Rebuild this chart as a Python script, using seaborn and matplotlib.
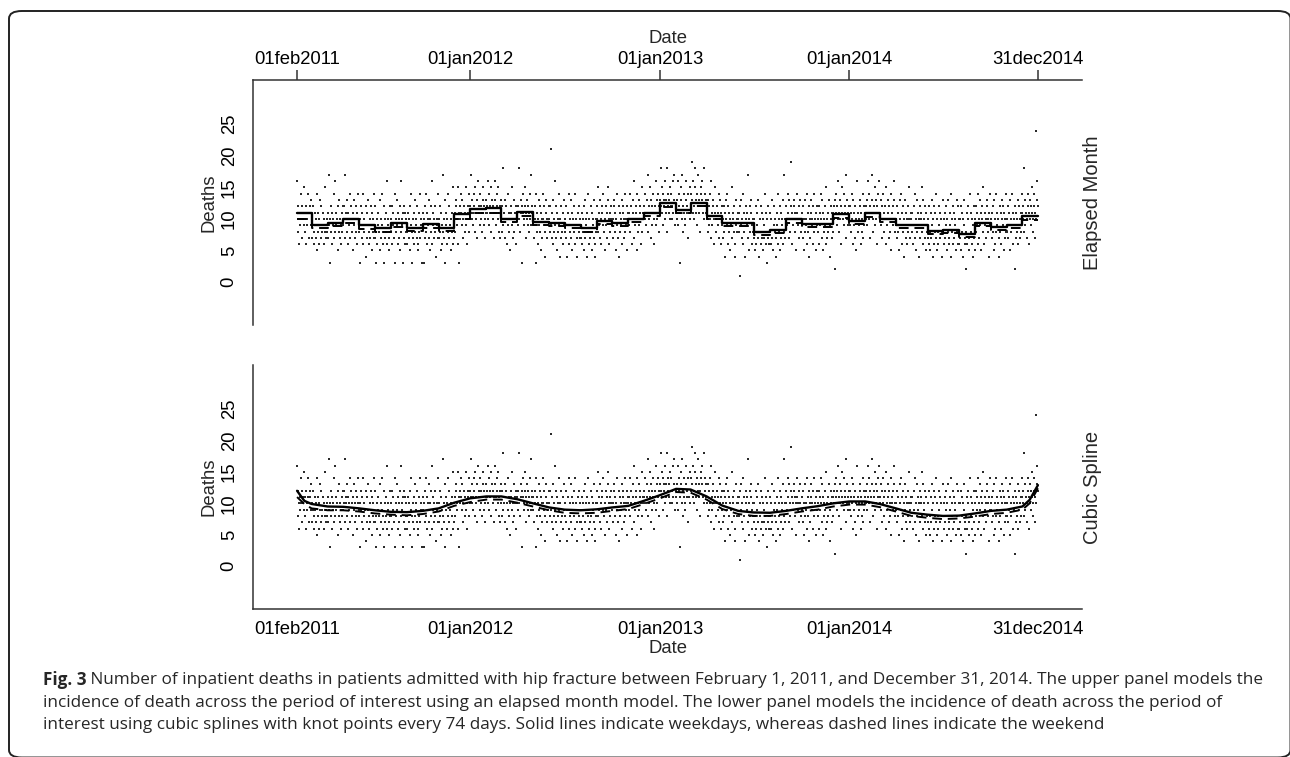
import pandas as pd
import matplotlib
matplotlib.use("Agg")
import matplotlib.pyplot as plt
from matplotlib.patches import FancyBboxPatch
import seaborn as sns

# daily deaths, one string per month (Feb 2011 .. Dec 2014), one base-36 digit per day
daily_by_month = [
    "g8ca6b9eac7ba9fb8c6a9be7bcd9", "7a9c86b9a75e8ba69d7c89b6a8f79a8",
    "b7h93a8c6ba9e7g8b9a5c8d7a96b8c", "9cah7ba8d6b9ae7c8a5bd9a7c8b6ea9",
    "83a9c7b6e8a94c7b9d68a7c9b5a8e7", "7c83a69b8d5a7e9683c7a8b6g9a75c8",
    "a8c69b7e3a8d96ba7c5g8a93b7cb6a8", "86b7a5c9e83a7b6d8a97c65b8e7a93",
    "9b3a7c8e6ba97d5a8cg69b7a8c4a9e7", "7a8c5b96h8a73d9b6a8e7c95a8b6f7",
    "ab8dc9a6fb3caeb9d7ac8bf9a6cbe8a",
    "cbhadb9ecf8bad7gcb9eac8bdf9ca7b", "dbcgae9cbf8dac7bgdb9ecaf8bc7d",
    "a8ci9ba7dc6a9eb8a5cb9f7ad8ba6ca", "bc9ia8dbc3eb9acf7bda9cb8eah9cb",
    "9b7ca3e8ba6d9c8b5a7ea9c48bd7a9c", "a8c9l7b6d8a9g7c5b8ae94a7c8b6d9",
    "8a7c94b9e6a8d7b5a9c8e6a74b9c8a7", "79b6a8c5d7a94b8e6a7c8b59a7d64a8",
    "ac8f9b7da6cb9e85ac9b7dfa6b8ca9", "9a7dc8b5a9e7c4b8a9d6bc7a8e9a5cb",
    "ab9e8ca6dbg7a9cb5ea8d9bc6af8ba", "bcae9dbh8cafb7dc9bea6cbg9daeb8c",
    "dcifbe9dcgadb8icedbfaceacgbdh9c", "bdag9ecb3fdah8cbea9gdcbe7bfa",
    "ecjdbgcaifdbe9chdbc8fegdbaicedb", "ab8dc9ea7gb9cda6bf8acb9e7dab6c",
    "9a7c8b4da9e6c8b5a9f7ab8c46d9a8b", "a8b1c9d7a6eb84ac9b7ha5c8bd96a8",
    "7a85c69b7d48a6c7b5a97e86b3a7c86", "8b6a7d59c8a74b9e6a8c57b9a6d8h7a",
    "ac9eb7da8cjb6a9dc8ba5eb9ac7da8", "9b7ca5d8a9e6b8c4a7db9a6c8ea5b9c",
    "a8c6b9ea7d5b8a9c6fa7b8d49ca7b8", "bca2dbe9cagb8dac6bfa9ecbh7dab9c",
    "a9c8bea6d9b7ca5gb8a9dc6ba8e7c9a", "bcad9gbea7cbhd8acbf9ad6cbegb",
    "ab9dc7ea8bc6fa9bd7ca8e5bac9gd8a", "9a7c8b5da9e6b8c4a9d7ba6c8fa79b",
    "a8b6c9e7a5d8b9a4c7ba8f6d9a7cb58", "7a6c85b7d9a46c8b7e5a86c9b7a48d",
    "8a6b79c5a8d67b9e4a8c6b7a95d8c6a", "6a7c5b84a9d6728b6ca57e8b6a49c75",
    "a8c9b6ea7d9b5ca8f6b9a7dc8a4b9e", "9a7b8c5da6e8b9a74c8b6da9c5b7a8e",
    "a8c7b9d5a8e6ba92c7b8ad6c9a7b8e", "bac8id9ba7ecb6adc9bfa8ceb7oagdc",
]

# elapsed month model, monthly fitted deaths
month_weekday = [10.9, 9.05, 9.4, 10.0, 9.0, 8.5, 9.3, 8.6, 9.2, 8.6, 10.7,
                 11.5, 11.7, 10.0, 11.05, 9.5, 9.4, 9.0, 8.5, 9.7, 9.4, 10.0, 11.0,
                 12.6, 11.4, 12.6, 10.5, 9.3, 9.3, 8.0, 8.3, 10.0, 9.2, 9.2, 10.8,
                 9.7, 10.9, 10.0, 9.1, 9.1, 8.1, 8.3, 7.6, 9.4, 8.75, 9.1, 10.4]
month_weekend = [10.0, 8.5, 8.9, 9.4, 8.4, 8.0, 8.7, 8.1, 8.6, 8.1, 10.0,
                 10.9, 11.0, 9.5, 10.4, 9.0, 8.9, 8.5, 8.0, 9.2, 8.9, 9.5, 10.4,
                 11.9, 10.9, 12.0, 10.0, 8.8, 8.8, 7.5, 7.8, 9.4, 8.7, 8.7, 10.2,
                 9.2, 10.3, 9.5, 8.6, 8.6, 7.6, 7.8, 7.1, 8.9, 8.2, 8.6, 9.9]

# cubic spline model, read at month starts (plus a few extra dates)
spline_dates = (["2011-02-01", "2011-02-15"]
                + [d.strftime("%Y-%m-%d") for d in pd.date_range("2011-03-01", "2014-12-01", freq="MS")]
                + ["2014-12-15", "2014-12-31"])
spline_weekday = [12.0, 10.4, 9.9, 9.5, 9.45, 9.2, 8.9, 8.65, 8.6, 8.8, 9.2, 10.1,
                  10.8, 11.1, 11.1, 10.65, 10.0, 9.35, 9.0, 8.9, 9.05, 9.35, 9.6, 10.4,
                  11.3, 12.3, 12.2, 11.1, 9.65, 8.8, 8.55, 8.5, 8.8, 9.2, 9.55, 10.0,
                  10.3, 10.3, 9.9, 9.2, 8.5, 8.2, 8.0, 8.05, 8.4, 8.8, 9.0, 9.5, 10.55, 12.9]
spline_weekend = [11.0, 9.9, 9.2, 8.9, 8.9, 8.7, 8.4, 8.2, 8.1, 8.3, 8.7, 9.6,
                  10.2, 10.6, 10.6, 10.1, 9.5, 8.9, 8.5, 8.4, 8.5, 8.8, 9.1, 9.9,
                  10.8, 11.8, 11.7, 10.6, 9.1, 8.3, 8.0, 8.0, 8.3, 8.7, 9.0, 9.5,
                  9.8, 9.8, 9.4, 8.7, 8.0, 7.7, 7.5, 7.6, 7.9, 8.3, 8.5, 9.0, 10.0, 12.4]

tick_dates = ["2011-02-01", "2012-01-01", "2013-01-01", "2014-01-01", "2014-12-31"]
tick_labels = ["01feb2011", "01jan2012", "01jan2013", "01jan2014", "31dec2014"]

#Building daily table
month_starts = pd.date_range("2011-02-01", "2014-12-01", freq="MS")
rows = []
for start, s in zip(month_starts, daily_by_month):
    days = pd.date_range(start, start + pd.offsets.MonthEnd(0))
    for d, ch in zip(days, s):
        rows.append((d, int(ch, 36)))
daily = pd.DataFrame(rows, columns=["date", "deaths"])

end_date = pd.Timestamp("2014-12-31")
step_dates = list(month_starts) + [end_date]
step_wd = month_weekday + [month_weekday[-1]]
step_we = month_weekend + [month_weekend[-1]]
spl_dates = pd.to_datetime(spline_dates)

sns.set_style("white")
plt.rcParams["font.family"] = ["Liberation Sans", "DejaVu Sans"]

W, H = 1290, 757
fig = plt.figure(figsize=(W / 100, H / 100), dpi=100)
ax_top = fig.add_axes([253 / W, 1 - 325 / H, 829 / W, 245 / H])
ax_bot = fig.add_axes([253 / W, 1 - 609 / H, 829 / W, 244 / H])

fs = 13.3
x0 = pd.Timestamp("2011-02-01") - pd.Timedelta(days=85)
x1 = end_date + pd.Timedelta(days=85)

for ax in (ax_top, ax_bot):
    sns.scatterplot(data=daily, x="date", y="deaths", ax=ax, s=1.5, marker="s",
                    color="#2a2a2a", linewidth=0)
    ax.set_xlim(x0, x1)
    ax.set_ylim(-6.8, 32)
    ax.set_yticks([0, 5, 10, 15, 20, 25])
    ax.set_yticklabels(["0", "5", "10", "15", "20", "25"], rotation=90, va="center")
    ax.set_xticks(pd.to_datetime(tick_dates))
    ax.set_xticklabels(tick_labels)
    ax.set_ylabel("Deaths", fontsize=fs, labelpad=2)
    ax.tick_params(axis="y", direction="out", length=7, width=1.1, labelsize=fs, pad=4,
                   color="#333333", labelcolor="black")
    for side in ax.spines:
        ax.spines[side].set_color("#333333")
        ax.spines[side].set_linewidth(1.1)
    ax.set_facecolor("white")

ax_top.spines["bottom"].set_visible(False)
ax_top.spines["right"].set_visible(False)
ax_top.xaxis.tick_top()
ax_top.xaxis.set_label_position("top")
ax_top.tick_params(axis="x", direction="out", length=7, width=1.1, labelsize=fs, pad=1.5,
                   color="#333333", labelcolor="black")
ax_top.set_xlabel("Date", fontsize=fs, labelpad=6)
ax_bot.spines["top"].set_visible(False)
ax_bot.spines["right"].set_visible(False)
ax_bot.tick_params(axis="x", direction="out", length=7, width=1.1, labelsize=fs, pad=2,
                   color="#333333", labelcolor="black")
ax_bot.set_xlabel("Date", fontsize=fs, labelpad=1)

sns.lineplot(x=step_dates, y=step_wd, ax=ax_top, color="black", lw=1.7,
             drawstyle="steps-post", estimator=None)
sns.lineplot(x=step_dates, y=step_we, ax=ax_top, color="black", lw=1.4,
             drawstyle="steps-post", estimator=None)
ax_top.lines[-1].set_dashes([5, 3])
sns.lineplot(x=spl_dates, y=spline_weekday, ax=ax_bot, color="black", lw=1.7,
             estimator=None)
sns.lineplot(x=spl_dates, y=spline_weekend, ax=ax_bot, color="black", lw=1.4,
             estimator=None)
ax_bot.lines[-1].set_dashes([5, 3])

fig.text(1093 / W, 1 - 203 / H, "Elapsed Month", rotation=90, ha="center",
         va="center", fontsize=14.5)
fig.text(1093 / W, 1 - 487 / H, "Cubic Spline", rotation=90, ha="center",
         va="center", fontsize=14.5)

# rounded frame around figure
frame = FancyBboxPatch((9 / W, 1 - 757.5 / H), 1281.5 / W, 746.5 / H,
                       boxstyle="round,pad=0,rounding_size=0.010",
                       transform=fig.transFigure, fill=False,
                       edgecolor="#222222", linewidth=1.4)
fig.patches.append(frame)

#Caption
cap_font = ["Open Sans", "DejaVu Sans"]
cfs = 12.3
lines = [
    " Number of inpatient deaths in patients admitted with hip fracture between February 1, 2011, and December 31, 2014. The upper panel models the",
    "incidence of death across the period of interest using an elapsed month model. The lower panel models the incidence of death across the period of",
    "interest using cubic splines with knot points every 74 days. Solid lines indicate weekdays, whereas dashed lines indicate the weekend",
]
bold = fig.text(43 / W, 1 - 680 / H, "Fig. 3", fontsize=cfs, fontweight="bold",
                family=cap_font, va="center")
fig.canvas.draw()
bb = bold.get_window_extent()
fig.text(bb.x1 / W, 1 - 680 / H, lines[0], fontsize=cfs, family=cap_font, va="center")
fig.text(43 / W, 1 - 703 / H, lines[1], fontsize=cfs, family=cap_font, va="center")
fig.text(43 / W, 1 - 725 / H, lines[2], fontsize=cfs, family=cap_font, va="center")

fig.savefig("out.png", dpi=100)
